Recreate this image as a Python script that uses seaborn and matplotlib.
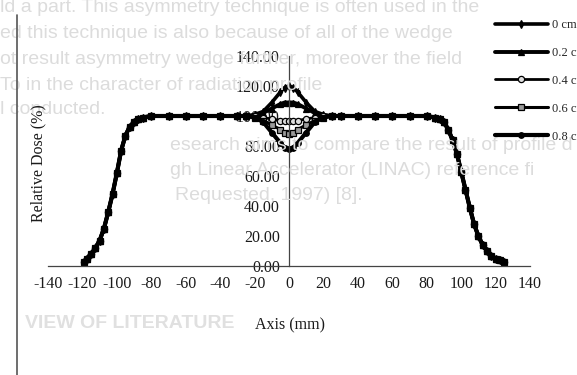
import pandas as pd
import seaborn as sns
import matplotlib.pyplot as plt
from matplotlib.lines import Line2D

# Dose profile data
#-------------------------------------------------------------------------------------------------#
axis_left = [-119, -117.5, -115, -112.5, -110, -107.5, -105, -102.5, -100, -97.5,
             -95, -92.5, -90, -87.5, -85, -80, -70, -60, -50, -40, -30]
dose_left = [3, 5, 8, 12, 17, 25, 36, 48, 62, 77,
             87, 93, 96, 98, 99, 100, 100, 100, 100, 100, 100]

axis_center = [-25, -20, -15, -10, -5, -2.5, 0, 2.5, 5, 10, 15, 20, 25]
dose_center_00 = [100, 101, 103, 109, 116, 119, 120, 119, 116, 109, 103, 101, 100]
dose_center_02 = [100, 100, 102, 105, 108, 109, 109, 109, 108, 105, 102, 100, 100]
dose_center_04 = [100, 100, 99, 98, 97, 97, 97, 97, 97, 98, 99, 100, 100]
dose_center_06 = [100, 99, 97, 94, 91, 89, 88, 89, 91, 94, 97, 99, 100]
dose_center_08 = [100, 99, 96, 89, 82, 79, 78, 79, 82, 89, 96, 99, 100]

axis_right = [30, 40, 50, 60, 70, 80, 85, 87.5, 90, 92.5, 95, 97.5, 100,
              102.5, 105, 107.5, 110, 112.5, 115, 117.5, 120, 122.5, 125]
dose_right = [100, 100, 100, 100, 100, 100, 99, 98, 96, 91, 84, 75, 63,
              51, 39, 28, 20, 14, 10, 7, 5, 4, 3]

depth_labels = ["0 cm", "0.2 cm", "0.4 cm", "0.6 cm", "0.8 cm"]
center_doses = [dose_center_00, dose_center_02, dose_center_04, dose_center_06, dose_center_08]

x_ticks = [-140, -120, -100, -80, -60, -40, -20, 0, 20, 40, 60, 80, 100, 120, 140]
y_ticks = [0, 20, 40, 60, 80, 100, 120, 140]

# faint text of the scanned page behind the chart
page_lines = [
    ("ld a part. This asymmetry technique is often used in the", 0, 8),
    ("ed this technique is also because of all of the wedge", 0, 34),
    ("ot result asymmetry wedge further, moreover the field", 0, 60),
    ("To in the character of radiation profile", 0, 86),
    ("l conducted.", 0, 110),
    ("esearch aims to compare the result of profile d", 170, 146),
    ("gh Linear Accelerator (LINAC) reference fi", 170, 171),
    ("Requested, 1997) [8].", 175, 196),
]

rows = []
for label, center in zip(depth_labels, center_doses):
    for x, y in zip(axis_left + axis_center + axis_right, dose_left + center + dose_right):
        rows.append({"Axis (mm)": x, "Relative Dose (%)": y, "Depth": label})
df = pd.DataFrame(rows)

sns.set_style("white")
plt.rcParams["font.family"] = ["Liberation Serif", "DejaVu Serif"]

W, H = 577, 375
fig = plt.figure(figsize=(W / 100, H / 100), dpi=100)

for text, px, py in page_lines:
    fig.text(px / W, 1 - py / H, text, family="Liberation Sans", fontsize=14,
             color="#dcdcdc", va="center", ha="left", zorder=0)
fig.text(25 / W, 1 - 323 / H, "VIEW OF LITERATURE", family="Liberation Sans",
         fontsize=14, fontweight="bold", color="#e0e0e0", va="center", zorder=0)
fig.add_artist(Line2D([17 / W, 17 / W], [0, 1 - 15 / H], color="#555555", lw=1.2))

ax = fig.add_axes([48 / W, 1 - 266 / H, (530 - 48) / W, (266 - 56) / H])
ax.patch.set_alpha(0)

styles = {
    "0 cm": dict(marker="d", markersize=4, markerfacecolor="black", linewidth=2.6),
    "0.2 cm": dict(marker="^", markersize=5, markerfacecolor="black", linewidth=2.8),
    "0.4 cm": dict(marker="o", markersize=4.5, markerfacecolor="#dddddd", linewidth=2.0),
    "0.6 cm": dict(marker="s", markersize=4.5, markerfacecolor="#9a9a9a", linewidth=2.2),
    "0.8 cm": dict(marker="o", markersize=4, markerfacecolor="black", linewidth=3.0),
}
for label in depth_labels:
    sub = df[df["Depth"] == label]
    sns.lineplot(data=sub, x="Axis (mm)", y="Relative Dose (%)", ax=ax, color="black",
                 markeredgecolor="black", markeredgewidth=0.9, label=label,
                 sort=False, **styles[label])

ax.set_xlim(-140, 140)
ax.set_ylim(0, 140)
ax.spines["left"].set_position(("data", 0))
ax.spines["right"].set_visible(False)
ax.spines["top"].set_visible(False)
for s in ["left", "bottom"]:
    ax.spines[s].set_color("#444444")
    ax.spines[s].set_linewidth(0.9)
ax.set_xticks(x_ticks)
ax.set_xticklabels([str(t) for t in x_ticks])
ax.set_yticks(y_ticks)
ax.set_yticklabels([f"{t:.2f}" for t in y_ticks])
ax.tick_params(axis="both", labelsize=11.5, colors="#1a1a1a", length=3, width=0.8, direction="out")
ax.tick_params(axis="x", pad=4)
ax.set_xlabel("")
ax.set_ylabel("")
ax.get_legend().remove()

fig.text(290 / W, 1 - 325 / H, "Axis (mm)", ha="center", va="center", fontsize=11.5, color="#1a1a1a")
fig.text(38 / W, 1 - 163 / H, "Relative Dose (%)", ha="center", va="center", rotation=90,
         fontsize=11.5, color="#1a1a1a")

# legend sits at the right edge; the scan cuts its labels off there
handles, labels = ax.get_legend_handles_labels()
fig.legend(handles, labels, loc="upper left", bbox_to_anchor=(495 / W, 1 - 19 / H),
           frameon=False, fontsize=9, handlelength=4.2, handletextpad=0.35,
           labelspacing=1.27, borderpad=0, borderaxespad=0)

fig.savefig("out.png", dpi=100)
